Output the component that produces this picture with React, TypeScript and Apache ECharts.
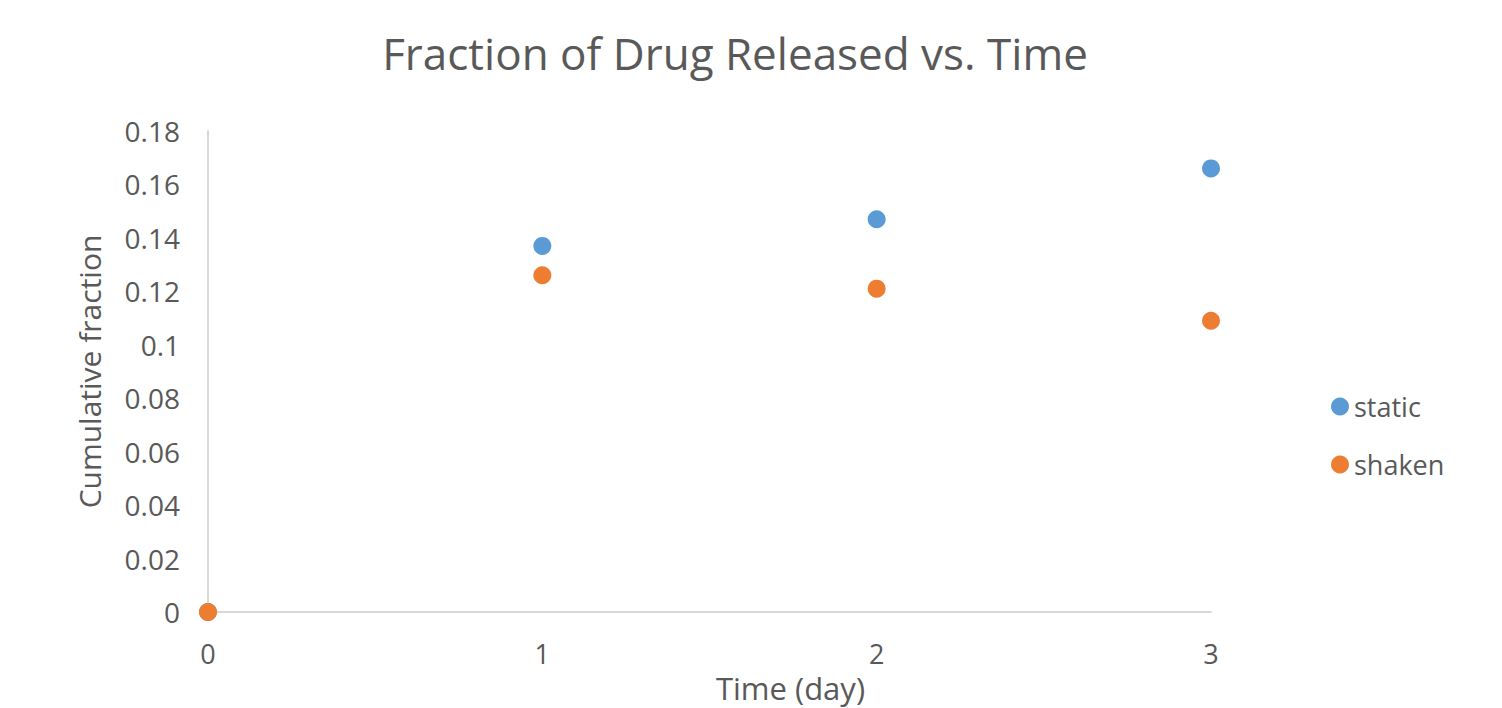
import React, { useEffect, useRef } from "react";
import * as echarts from "echarts";

// Time points (days) and cumulative fraction released for each condition
const days = [0, 1, 2, 3];
const staticValues = [0, 0.137, 0.147, 0.166];
const shakenValues = [0, 0.126, 0.121, 0.109];
const yTicks = [0, 0.02, 0.04, 0.06, 0.08, 0.1, 0.12, 0.14, 0.16, 0.18];

const FONT = "'Open Sans', 'Liberation Sans', sans-serif";
const TEXT = "#595959";

export default function App() {
  const ref = useRef<HTMLDivElement>(null);

  useEffect(() => {
    document.body.style.margin = "0";
    if (!ref.current) return;
    const chart = echarts.init(ref.current, null, { renderer: "svg" });
    const pair = (vals: number[]) => days.map((d, i) => [d, vals[i]]);

    chart.setOption({
      animation: false,
      backgroundColor: "#ffffff",
      title: {
        text: "Fraction of Drug Released vs. Time",
        left: 730,
        top: 26,
        textAlign: "center",
        textStyle: { fontFamily: FONT, fontSize: 44, fontWeight: "normal", color: TEXT },
      },
      grid: { left: 208, right: 1502 - 1211, top: 131, bottom: 87 },
      legend: {
        orient: "vertical",
        left: 1326,
        top: 388,
        itemWidth: 18,
        itemHeight: 18,
        itemGap: 31,
        icon: "circle",
        textStyle: { fontFamily: FONT, fontSize: 27, color: TEXT },
        data: ["static", "shaken"],
      },
      xAxis: {
        type: "value",
        min: 0,
        max: 3,
        interval: 1,
        name: "Time (day)",
        nameLocation: "middle",
        nameGap: 60,
        nameTextStyle: { fontFamily: FONT, fontSize: 31, color: TEXT, padding: [0, 0, 0, 162] },
        axisLine: { show: true, lineStyle: { color: "#d9d9d9", width: 2 } },
        axisTick: { show: false },
        splitLine: { show: false },
        axisLabel: { fontFamily: FONT, fontSize: 27, color: TEXT, margin: 28 },
      },
      yAxis: {
        type: "value",
        min: yTicks[0],
        max: yTicks[yTicks.length - 1],
        interval: 0.02,
        name: "Cumulative fraction",
        nameLocation: "middle",
        nameGap: 104,
        nameRotate: 90,
        nameTextStyle: { fontFamily: FONT, fontSize: 30, color: TEXT },
        axisLine: { show: true, lineStyle: { color: "#d9d9d9", width: 2 } },
        axisTick: { show: false },
        splitLine: { show: false },
        axisLabel: {
          fontFamily: FONT,
          fontSize: 28,
          color: TEXT,
          margin: 28,
          formatter: (v: number) => String(parseFloat(v.toFixed(2))),
        },
      },
      series: [
        {
          name: "static",
          type: "scatter",
          symbol: "circle",
          symbolSize: 18,
          itemStyle: { color: "#5B9BD5", opacity: 1 },
          data: pair(staticValues),
        },
        {
          name: "shaken",
          type: "scatter",
          symbol: "circle",
          symbolSize: 18,
          itemStyle: { color: "#ED7D31", opacity: 1 },
          data: pair(shakenValues),
        },
      ],
    });

    return () => chart.dispose();
  }, []);

  return <div ref={ref} style={{ width: 1502, height: 708 }} />;
}
